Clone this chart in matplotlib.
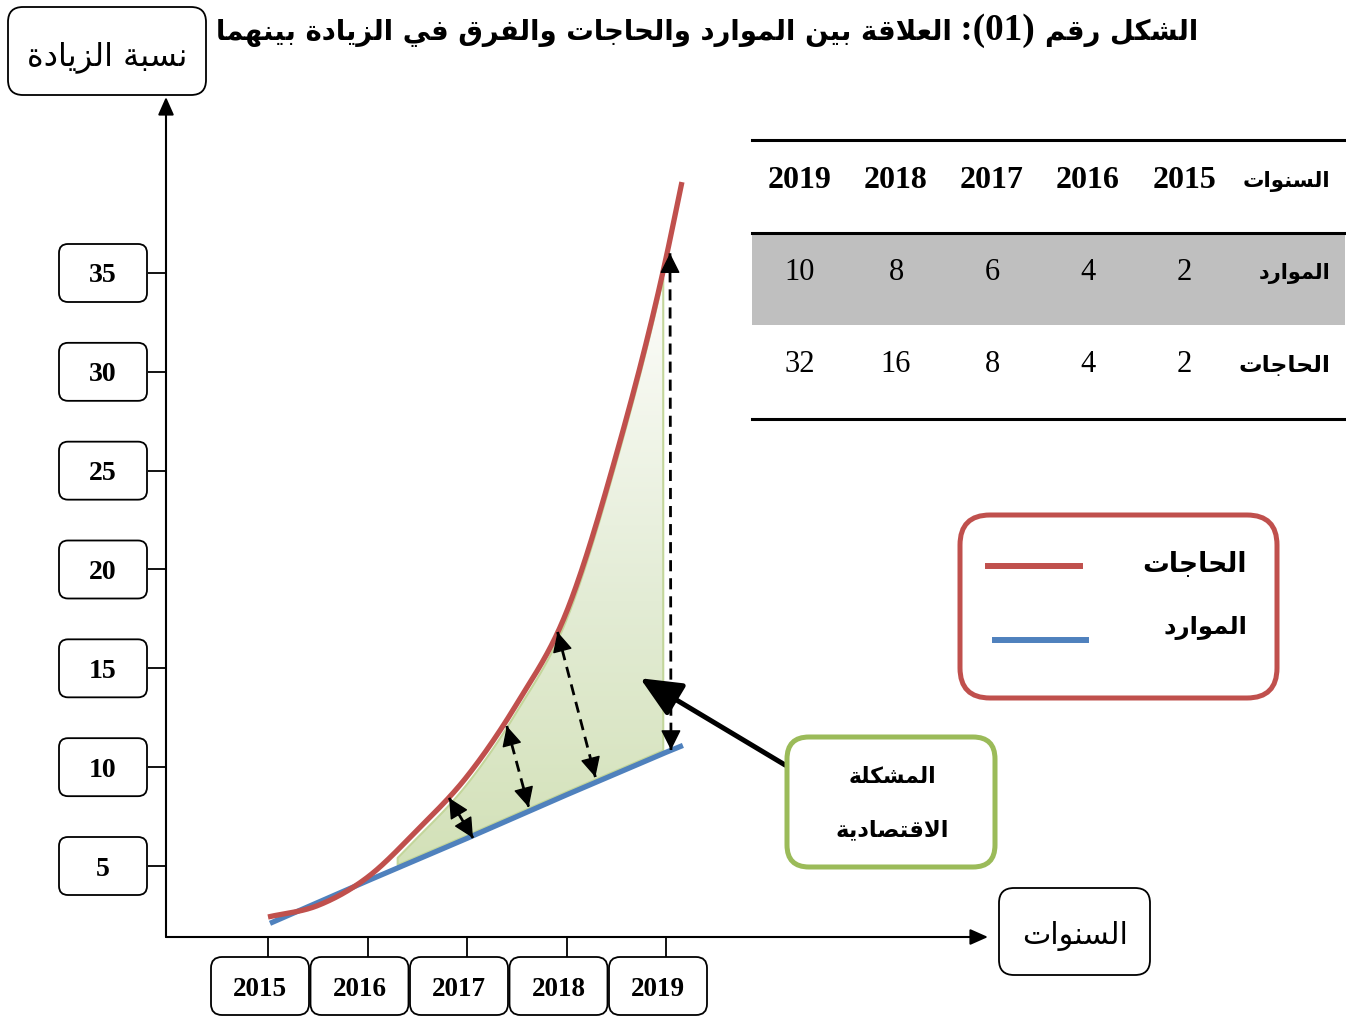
import numpy as np
import matplotlib
matplotlib.use('Agg')
import matplotlib.pyplot as plt
import matplotlib.transforms as mtransforms
from matplotlib.patches import FancyBboxPatch, Rectangle
from matplotlib.lines import Line2D
from matplotlib.colors import LinearSegmentedColormap

plt.rcParams['font.family'] = ['Liberation Serif', 'DejaVu Sans']
AR = ['DejaVu Sans']

# ---- data ----
years = [2015, 2016, 2017, 2018, 2019]
resources = [2, 4, 6, 8, 10]           # الموارد
needs = [2, 4, 8, 16, 32]              # الحاجات
y_ticks = [5, 10, 15, 20, 25, 30, 35]

# curves as drawn in the figure
needs_x = [2015, 2015.5, 2016, 2016.5, 2017, 2017.5, 2018, 2018.5, 2019, 2019.16]
needs_y = [2.42, 3.0, 4.43, 6.82, 9.53, 13.2, 17.85, 25.8, 35.75, 39.6]
res_x = [2015.02, 2016, 2017, 2018, 2019, 2019.17]
res_y = [2.1, 4.25, 6.4, 8.6, 10.75, 11.1]

# dashed "gap" arrows between the two curves
gap_x0 = [2016.82, 2017.40, 2017.91, 2019.04]
gap_y0 = [8.44, 12.08, 16.84, 36.0]
gap_x1 = [2017.06, 2017.62, 2018.29, 2019.05]
gap_y1 = [6.42, 7.98, 9.50, 10.87]

RED = '#C0504D'
BLUE = '#4F81BD'
GREEN = '#9BBB59'

# ---- simple arabic shaping (presentation forms + RTL order) ----
FORMS = {
    'ا': ('\uFE8D', '\uFE8E', None, None),
    'ب': ('\uFE8F', '\uFE90', '\uFE91', '\uFE92'),
    'ة': ('\uFE93', '\uFE94', None, None),
    'ت': ('\uFE95', '\uFE96', '\uFE97', '\uFE98'),
    'ج': ('\uFE9D', '\uFE9E', '\uFE9F', '\uFEA0'),
    'ح': ('\uFEA1', '\uFEA2', '\uFEA3', '\uFEA4'),
    'د': ('\uFEA9', '\uFEAA', None, None),
    'ر': ('\uFEAD', '\uFEAE', None, None),
    'ز': ('\uFEAF', '\uFEB0', None, None),
    'س': ('\uFEB1', '\uFEB2', '\uFEB3', '\uFEB4'),
    'ش': ('\uFEB5', '\uFEB6', '\uFEB7', '\uFEB8'),
    'ص': ('\uFEB9', '\uFEBA', '\uFEBB', '\uFEBC'),
    'ع': ('\uFEC9', '\uFECA', '\uFECB', '\uFECC'),
    'ف': ('\uFED1', '\uFED2', '\uFED3', '\uFED4'),
    'ق': ('\uFED5', '\uFED6', '\uFED7', '\uFED8'),
    'ك': ('\uFED9', '\uFEDA', '\uFEDB', '\uFEDC'),
    'ل': ('\uFEDD', '\uFEDE', '\uFEDF', '\uFEE0'),
    'م': ('\uFEE1', '\uFEE2', '\uFEE3', '\uFEE4'),
    'ن': ('\uFEE5', '\uFEE6', '\uFEE7', '\uFEE8'),
    'ه': ('\uFEE9', '\uFEEA', '\uFEEB', '\uFEEC'),
    'و': ('\uFEED', '\uFEEE', None, None),
    'ي': ('\uFEF1', '\uFEF2', '\uFEF3', '\uFEF4'),
}
DUAL = {c for c, f in FORMS.items() if f[2]}


def ar(s):
    s = s.replace('لا', '\x01')
    out = []
    for i, c in enumerate(s):
        prev = s[i - 1] if i > 0 else ''
        nxt = s[i + 1] if i + 1 < len(s) else ''
        if c == '\x01':
            out.append('\uFEFC' if prev in DUAL else '\uFEFB')
            continue
        if c not in FORMS:
            out.append(c)
            continue
        jp = prev in DUAL
        jn = c in DUAL and (nxt in FORMS or nxt == '\x01')
        iso, fin, ini, med = FORMS[c]
        out.append(med if jp and jn else fin if jp else ini if jn else iso)
    return ''.join(out)[::-1]


def smooth(x, y, n=400):
    x = np.asarray(x, float)
    y = np.asarray(y, float)
    m = np.gradient(y, x)
    xs = np.linspace(x[0], x[-1], n)
    i = np.clip(np.searchsorted(x, xs) - 1, 0, len(x) - 2)
    h = x[i + 1] - x[i]
    t = (xs - x[i]) / h
    ys = ((2 * t**3 - 3 * t**2 + 1) * y[i] + (t**3 - 2 * t**2 + t) * h * m[i]
          + (-2 * t**3 + 3 * t**2) * y[i + 1] + (t**3 - t**2) * h * m[i + 1])
    return xs, ys


W, H = 1346, 1016
fig = plt.figure(figsize=(W / 100, H / 100), dpi=100)
IN = fig.dpi_scale_trans
renderer = fig.canvas.get_renderer()


def px(x, y):
    return (x / 100, (H - y) / 100)


def rbox(x0, y0, x1, y1, r, ec='black', lw=1.3, fc='white', z=3):
    p = FancyBboxPatch(px(x0, y1), (x1 - x0) / 100, (y1 - y0) / 100,
                       boxstyle=f'round,pad=0,rounding_size={r / 100}',
                       transform=IN, ec=ec, fc=fc, lw=lw, zorder=z)
    fig.add_artist(p)


def label(x, y, s, size, ha='center', weight='normal', fam=AR, width=None, va='center'):
    t = fig.text(*px(x, y), s, transform=IN, ha=ha, va=va,
                 fontsize=size, fontweight=weight, family=fam, zorder=5)
    if width:
        bb = t.get_window_extent(renderer)
        t.set_fontsize(size * width / bb.width)
    return t


# ---- main axes ----
XPX, YPX = 99.5, 19.767
ax = fig.add_axes([166 / W, 1 - 937 / H, (988 - 166) / W, (937 - 97) / H])
xlim = (2015 - 102 / XPX, 2015 + 720 / XPX)
ylim = (5 - 71 / YPX, 35 + 176 / YPX)
for s in ax.spines.values():
    s.set_visible(False)
ax.patch.set_alpha(0)

ax.set_xticks(years)
ax.set_xticklabels([])
ax.set_yticks(y_ticks)
ax.set_yticklabels([])
ax.tick_params(axis='x', direction='out', length=20 * 0.72, width=1.3)
ax.tick_params(axis='y', direction='out', length=18 * 0.72, width=1.3)

arrow_kw = dict(arrowstyle='-|>,head_length=0.9,head_width=0.4', lw=1.5,
                color='black', shrinkA=0, shrinkB=0, mutation_scale=12)
ax.annotate('', xy=(0, 1), xytext=(0, 0), xycoords='axes fraction', arrowprops=arrow_kw)
ax.annotate('', xy=(1, 0), xytext=(0, 0), xycoords='axes fraction', arrowprops=arrow_kw)

# curves
rx, ry = smooth(needs_x, needs_y)
ax.plot(res_x, res_y, color=BLUE, lw=3.8, solid_capstyle='butt', zorder=3)
ax.plot(rx, ry, color=RED, lw=3.8, solid_capstyle='butt', zorder=4)

# shaded gap with gradient
mask = (rx >= 2016.3) & (rx <= 2018.98)
fx = rx[mask]
top = ry[mask] - 0.4
bot = np.interp(fx, res_x, res_y) + 0.15
poly = ax.fill_between(fx, bot, top, facecolor='none', edgecolor='#C3D69B', lw=1.5, zorder=2)
cmap = LinearSegmentedColormap.from_list('g', [(0, '#D3E1B8'), (0.45, '#E3ECD5'), (1, '#FDFDFB')])
im = ax.imshow(np.linspace(0, 1, 256).reshape(-1, 1), extent=[fx[0], fx[-1], bot.min(), top.max()],
               origin='lower', cmap=cmap, aspect='auto', zorder=1.5)
im.set_clip_path(poly.get_paths()[0], transform=ax.transData)

# dashed gap arrows: dashed shaft + solid heads
head_kw = dict(arrowstyle='-|>,head_length=0.9,head_width=0.45', lw=1.0, color='black',
               shrinkA=0, shrinkB=0, mutation_scale=14)
for x0, y0, x1, y1 in zip(gap_x0, gap_y0, gap_x1, gap_y1):
    ax.plot([x0, x1], [y0, y1], color='black', lw=2.0, ls=(0, (4, 2.5)), zorder=6)
    dx, dy = (x1 - x0) * 0.01, (y1 - y0) * 0.01
    ax.annotate('', xy=(x1, y1), xytext=(x1 - dx, y1 - dy), arrowprops=head_kw, zorder=7)
    ax.annotate('', xy=(x0, y0), xytext=(x0 + dx, y0 + dy), arrowprops=head_kw, zorder=7)

# arrow from the label box to the gap
ax.annotate('', xy=(2018.74, 14.5), xytext=(2020.2, 10.1),
            arrowprops=dict(arrowstyle='-|>,head_length=1.0,head_width=0.45', lw=3.6,
                            color='black', shrinkA=0, shrinkB=0, mutation_scale=25), zorder=6)

ax.set_xlim(*xlim)
ax.set_ylim(*ylim)

# tick label boxes
bold_num = dict(fontweight='bold', family=['Liberation Serif'])
for v in y_ticks:
    tr = ax.get_yaxis_transform()
    off = IN + mtransforms.ScaledTranslation(0, v, tr)
    p = FancyBboxPatch(((-63 - 44) / 100, -29 / 100), 88 / 100, 58 / 100,
                       boxstyle='round,pad=0,rounding_size=0.09', transform=off,
                       ec='black', fc='white', lw=1.3, zorder=8, clip_on=False)
    ax.add_artist(p)
    ax.annotate(str(v), xy=(0, v), xycoords=tr, xytext=(-63 * 0.72, -3 * 0.72),
                textcoords='offset points', ha='center', va='center', fontsize=20,
                annotation_clip=False, zorder=9, **bold_num)

for yr in years:
    tr = ax.get_xaxis_transform()
    off = IN + mtransforms.ScaledTranslation(yr, 0, tr)
    p = FancyBboxPatch(((-8 - 49) / 100, (-49 - 29) / 100), 98 / 100, 58 / 100,
                       boxstyle='round,pad=0,rounding_size=0.11', transform=off,
                       ec='black', fc='white', lw=1.3, zorder=8, clip_on=False)
    ax.add_artist(p)
    ax.annotate(str(yr), xy=(yr, 0), xycoords=tr, xytext=(-8 * 0.72, -52 * 0.72),
                textcoords='offset points', ha='center', va='center', fontsize=19.5,
                annotation_clip=False, zorder=9, **bold_num)

# ---- title: three pieces laid out right to left ----
t_right = label(1198, 40, ar('الشكل رقم'), 20, ha='right', weight='bold', va='baseline')
t_num = label(0, 40, ' (01): ', 27, ha='right', weight='bold', fam=['Liberation Serif'], va='baseline')
t_num.set_text(' :(01) ')
t_left = label(0, 40, ar('العلاقة بين الموارد والحاجات والفرق في الزيادة بينهما'), 20,
               ha='right', weight='bold', va='baseline')
parts = [t_right, t_num, t_left]
widths = [t.get_window_extent(renderer).width for t in parts]
k = 983 / sum(widths)
xr = 1198
for t, w in zip(parts, widths):
    t.set_fontsize(t.get_fontsize() * k)
    t.set_position(px(xr, 40))
    xr -= w * k

rbox(8, 7, 206, 95, 15)
label(107, 57, ar('نسبة الزيادة'), 20, width=160)
rbox(999, 888, 1150, 975, 15)
label(1075, 936, ar('السنوات'), 20, width=106)

# ---- table ----
fig.add_artist(Rectangle(px(752, 325), 593 / 100, 91 / 100, transform=IN, fc='#BFBFBF', ec='none', zorder=1))
for yy in [140, 233, 419]:
    fig.add_artist(Line2D([7.52, 13.45], [(H - yy) / 100] * 2, transform=IN, color='black', lw=2.2))
for i, yr in enumerate(years):
    cx = 1184 - 96 * i
    label(cx, 181, str(yr), 23, weight='bold', fam=['Liberation Serif'])
    label(cx, 273, str(resources[i]), 22, fam=['Liberation Serif'])
    label(cx, 364, str(needs[i]), 22, fam=['Liberation Serif'])
label(1330, 182, ar('السنوات'), 16, ha='right', weight='bold', width=88)
label(1330, 274, ar('الموارد'), 16, ha='right', weight='bold', width=72)
label(1330, 365, ar('الحاجات'), 16, ha='right', weight='bold', width=92)

# ---- legend box ----
rbox(960, 515, 1277, 698, 30, ec=RED, lw=3.6, fc='none')
fig.add_artist(Line2D([9.88, 10.80], [(H - 566) / 100] * 2, transform=IN, color=RED, lw=4.3))
fig.add_artist(Line2D([9.95, 10.86], [(H - 640) / 100] * 2, transform=IN, color=BLUE, lw=4.3))
label(1247, 564, ar('الحاجات'), 20, ha='right', weight='bold', width=104)
label(1247, 628, ar('الموارد'), 20, ha='right', weight='bold', width=84)

# ---- "economic problem" box ----
rbox(787, 737, 995, 867, 22, ec=GREEN, lw=3.6)
label(892, 777, ar('المشكلة'), 16, weight='bold', width=88)
label(892, 830, ar('الاقتصادية'), 16, weight='bold', width=114)

fig.savefig('out.png', dpi=100)
